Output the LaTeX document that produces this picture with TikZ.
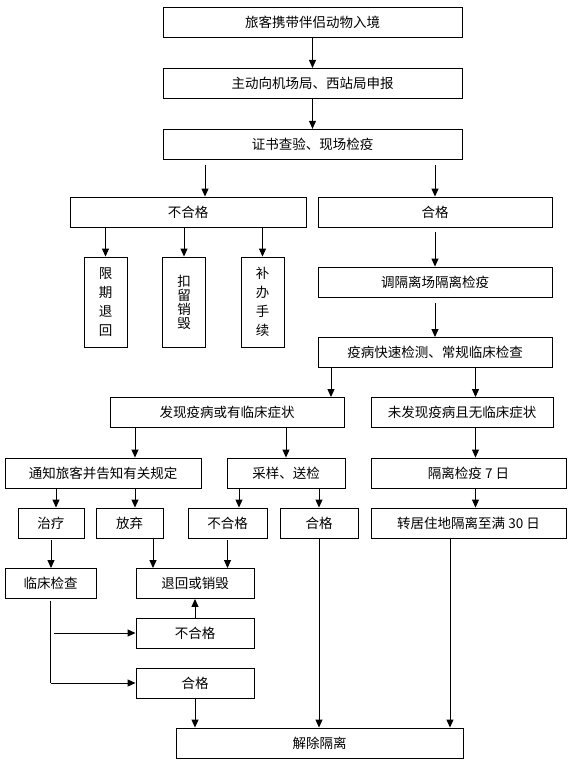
\documentclass[tikz,border=0pt]{standalone}
\usepackage{fontspec}
\setmainfont{Noto Sans CJK SC}
\usetikzlibrary{arrows.meta, positioning, calc}

\begin{document}
\begin{tikzpicture}[
    x=1pt, y=-1pt,
    box/.style={
        rectangle, draw, line width=0.9pt, inner sep=0pt,
        minimum height=30pt, font=\fontsize{13.5}{16}\selectfont
    },
    vbox/.style={
        box, minimum width=43pt, minimum height=90pt, align=center,
        font=\fontsize{13.5}{19}\selectfont
    },
    line/.style={draw, line width=0.9pt, -{Triangle[width=7pt,length=8pt]}},
    seg/.style={draw, line width=0.9pt}
]
    \useasboundingbox (0,0) rectangle (568,761);

    \node [box, minimum width=299pt] (entry) at (312.5,22.5) {旅客携带伴侣动物入境};
    \node [box, minimum width=299pt, below=30pt of entry]   (declare) {主动向机场局、西站局申报};
    \node [box, minimum width=299pt, below=30pt of declare] (check)   {证书查验、现场检疫};
    \node [box, minimum width=236pt] (fail) at (188,212) {不合格};
    \node [box, minimum width=234pt] (pass) at (435,212) {合格};
    \node [vbox] (back)   at (105.5,302) {限\\期\\退\\回};
    \node [vbox, font=\fontsize{13.5}{14}\selectfont] (seize) at (184,302) {扣\\留\\销\\毁};
    \node [vbox] (supply) at (262.5,302) {补\\办\\手\\续};
    \node [box, minimum width=234pt] (isolate) at (435,282)   {调隔离场隔离检疫};
    \node [box, minimum width=234pt] (test)    at (435,352.5) {疫病快速检测、常规临床检查};
    \node [box, minimum width=234pt] (found)   at (227,412.5) {发现疫病或有临床症状};
    \node [box, minimum width=182pt] (clear)   at (462,412.5) {未发现疫病且无临床症状};
    \node [box, minimum width=196pt] (notify)  at (103,473)   {通知旅客并告知有关规定};
    \node [box, minimum width=118pt] (sample)  at (286,473)   {采样、送检};
    \node [box, minimum width=195pt] (quar)    at (468.5,473) {隔离检疫 7 日};
    \node [box, minimum width=66pt]  (treat)   at (51,523)    {治疗};
    \node [box, minimum width=67pt]  (quit)    at (129.5,523) {放弃};
    \node [box, minimum width=79pt]  (sfail)   at (227.5,523) {不合格};
    \node [box, minimum width=78pt]  (spass)   at (319,523)   {合格};
    \node [box, minimum width=195pt] (home)    at (468.5,523) {转居住地隔离至满 30 日};
    \node [box, minimum width=91pt]  (exam)    at (50.5,583.5) {临床检查};
    \node [box, minimum width=118pt] (destroy) at (195,583.5)  {退回或销毁};
    \node [box, minimum width=118pt] (efail)   at (195,633)    {不合格};
    \node [box, minimum width=118pt] (epass)   at (195,683)    {合格};
    \node [box, minimum width=287pt] (release) at (319.5,743)  {解除隔离};

    % columns of the arrows
    \coordinate (colfail)   at ([xshift=17pt]fail.north);
    \coordinate (colfound)  at ([xshift=104pt]found.north);
    \coordinate (colclear)  at ([xshift=13.5pt]clear.south);
    \coordinate (colnotify) at ([xshift=32pt]notify.north);
    \coordinate (coltreat)  at ([xshift=5pt]treat.north);
    \coordinate (colquit)   at ([xshift=5.5pt]quit.north);
    \coordinate (colsfail)  at ([xshift=11.5pt]sfail.north);
    \coordinate (colgive)   at ([xshift=23.5pt]quit.south);
    \coordinate (colhome)   at ([xshift=-18.5pt]home.south);

    \path [line] (entry)   -- (declare);
    \path [line] (declare) -- (check);
    \path [line, shorten <=5pt] (colfail |- check.south) -- (colfail);
    \path [line, shorten <=5pt] (pass.north |- check.south) -- (pass.north);
    \path [line] (back.north |- fail.south)   -- (back.north);
    \path [line] (seize.north |- fail.south)  -- (seize.north);
    \path [line] (supply.north |- fail.south) -- (supply.north);
    \path [line, shorten <=5pt] (pass)    -- (isolate);
    \path [line, shorten <=6pt] (isolate) -- (test);
    \path [line] (colfound |- test.south) -- (colfound);
    \path [line] (colclear |- test.south) -- (colclear |- clear.north);
    \path [line] (colnotify |- found.south) -- (colnotify);
    \path [line] (sample.north |- found.south) -- (sample.north);
    \path [line] (colclear) -- (colclear |- quar.north);
    \path [line] (coltreat |- notify.south) -- (coltreat);
    \path [line] (colquit |- notify.south)  -- (colquit);
    \path [line] (colsfail |- sample.south) -- (colsfail);
    \path [line] (spass.north |- sample.south) -- (spass.north);
    \path [line] (colclear |- quar.south) -- (colclear |- home.north);
    \path [line, shorten <=2pt] (treat.south) -- (treat.south |- exam.north);
    \path [line] (colgive) -- (colgive |- destroy.north);
    \path [line, shorten <=2pt] (sfail.south) -- (sfail.south |- destroy.north);
    \path [line] (efail) -- (destroy);
    \path [seg, shorten <=2pt] (exam.south) -- (exam.south |- epass.west);
    \path [line] ([xshift=3pt]exam.south |- efail.west) -- (efail.west);
    \path [line] (exam.south |- epass.west) -- (epass.west);
    \path [line] (epass) -- (epass.south |- release.north);
    \path [line] (spass) -- (spass.south |- release.north);
    \path [line] (colhome) -- (colhome |- release.north);
\end{tikzpicture}
\end{document}
